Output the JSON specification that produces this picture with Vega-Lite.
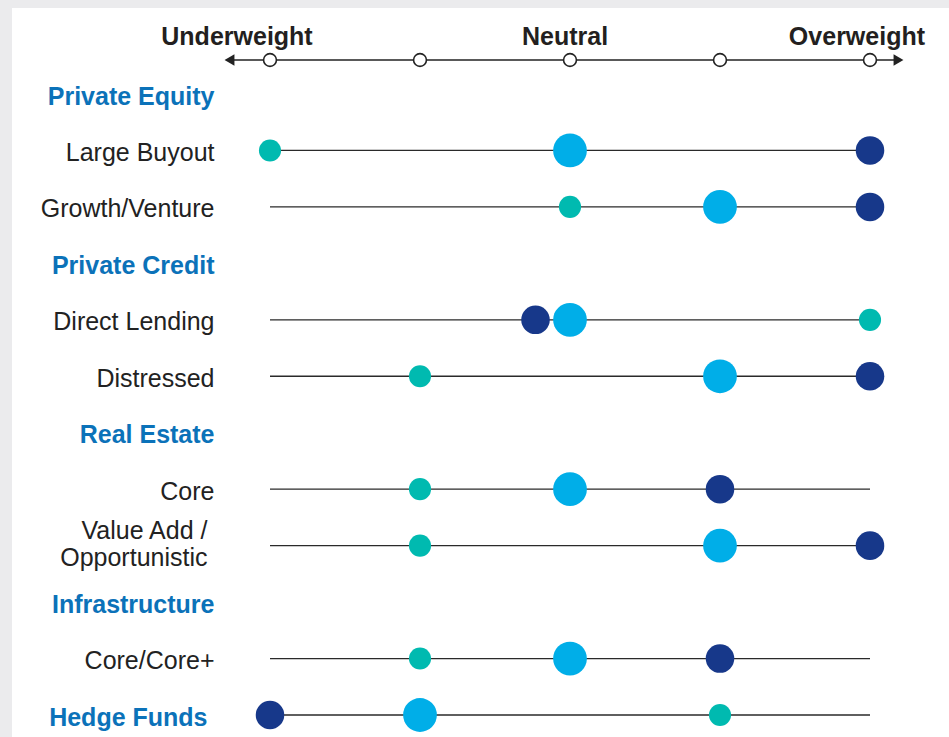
{
  "$schema": "https://vega.github.io/schema/vega-lite/v6.json",
  "autosize": {"type": "none"},
  "width": 937,
  "height": 729,
  "padding": {"left": 12, "top": 8, "right": 0, "bottom": 0},
  "background": "#ebebed",
  "config": {"view": {"fill": "#ffffff", "stroke": null}, "font": "Liberation Sans"},
  "datasets": {
    "dots": [
      {"row": "Large Buyout", "series": "Series C", "score": 1},
      {"row": "Large Buyout", "series": "Series A", "score": 3},
      {"row": "Large Buyout", "series": "Series B", "score": 5},
      {"row": "Growth/Venture", "series": "Series C", "score": 3},
      {"row": "Growth/Venture", "series": "Series A", "score": 4},
      {"row": "Growth/Venture", "series": "Series B", "score": 5},
      {"row": "Direct Lending", "series": "Series B", "score": 2.77},
      {"row": "Direct Lending", "series": "Series A", "score": 3},
      {"row": "Direct Lending", "series": "Series C", "score": 5},
      {"row": "Distressed", "series": "Series C", "score": 2},
      {"row": "Distressed", "series": "Series A", "score": 4},
      {"row": "Distressed", "series": "Series B", "score": 5},
      {"row": "Core", "series": "Series C", "score": 2},
      {"row": "Core", "series": "Series A", "score": 3},
      {"row": "Core", "series": "Series B", "score": 4},
      {"row": "Value Add / Opportunistic", "series": "Series C", "score": 2},
      {"row": "Value Add / Opportunistic", "series": "Series A", "score": 4},
      {"row": "Value Add / Opportunistic", "series": "Series B", "score": 5},
      {"row": "Core/Core+", "series": "Series C", "score": 2},
      {"row": "Core/Core+", "series": "Series A", "score": 3},
      {"row": "Core/Core+", "series": "Series B", "score": 4},
      {"row": "Hedge Funds", "series": "Series B", "score": 1},
      {"row": "Hedge Funds", "series": "Series A", "score": 2},
      {"row": "Hedge Funds", "series": "Series C", "score": 4}
    ],
    "rows": [
      {"row": "Private Equity"},
      {"row": "Large Buyout"},
      {"row": "Growth/Venture"},
      {"row": "Private Credit"},
      {"row": "Direct Lending"},
      {"row": "Distressed"},
      {"row": "Real Estate"},
      {"row": "Core"},
      {"row": "Value Add / Opportunistic"},
      {"row": "Infrastructure"},
      {"row": "Core/Core+"},
      {"row": "Hedge Funds"}
    ],
    "lines": [
      {"row": "Large Buyout"},
      {"row": "Growth/Venture"},
      {"row": "Direct Lending"},
      {"row": "Distressed"},
      {"row": "Core"},
      {"row": "Value Add / Opportunistic"},
      {"row": "Core/Core+"},
      {"row": "Hedge Funds"}
    ],
    "arrows": [
      {"row": "axis", "score": 0.73, "dir": "left"},
      {"row": "axis", "score": 5.19, "dir": "right"}
    ],
    "ticks": [
      {"row": "axis", "score": 1},
      {"row": "axis", "score": 2},
      {"row": "axis", "score": 3},
      {"row": "axis", "score": 4},
      {"row": "axis", "score": 5}
    ],
    "scaleLabels": [
      {"row": "axis", "score": 0.78, "label": "Underweight"},
      {"row": "axis", "score": 2.967, "label": "Neutral"},
      {"row": "axis", "score": 4.913, "label": "Overweight"}
    ]
  },
  "resolve": {"scale": {"y": "independent"}, "axis": {"y": "independent"}},
  "layer": [
    {
      "encoding": {
        "y": {"field": "row", "type": "ordinal", "scale": {"type": "point", "domain": ["axis"], "range": [52, 52], "padding": 0}, "axis": null}
      },
      "layer": [
        {
          "data": {"name": "arrows"},
          "mark": {"type": "rule", "color": "#222222", "strokeWidth": 1.6},
          "encoding": {
            "x": {"aggregate": "min", "field": "score", "type": "quantitative", "scale": {"domain": [1, 5], "range": [258, 858], "nice": false, "zero": false}, "axis": null},
            "x2": {"aggregate": "max", "field": "score"}
          }
        },
        {
          "data": {"name": "arrows"},
          "mark": {"type": "point", "filled": true, "color": "#222222", "size": 130, "opacity": 1},
          "encoding": {
            "x": {"field": "score", "type": "quantitative"},
            "shape": {"field": "dir", "type": "nominal", "scale": {"domain": ["left", "right"], "range": ["triangle-left", "triangle-right"]}, "legend": null}
          }
        },
        {
          "data": {"name": "ticks"},
          "mark": {"type": "point", "filled": true, "fill": "#ffffff", "stroke": "#222222", "strokeWidth": 1.6, "size": 165, "opacity": 1},
          "encoding": {
            "x": {"field": "score", "type": "quantitative"}
          }
        },
        {
          "data": {"name": "scaleLabels"},
          "mark": {"type": "text", "font": "Liberation Sans", "fontSize": 25, "fontWeight": "bold", "color": "#231f20", "baseline": "alphabetic", "align": "center", "dy": -15},
          "encoding": {
            "x": {"field": "score", "type": "quantitative"},
            "text": {"field": "label"}
          }
        }
      ]
    },
    {
      "encoding": {
        "y": {
          "field": "row", "type": "ordinal",
          "sort": ["Private Equity", "Large Buyout", "Growth/Venture", "Private Credit", "Direct Lending", "Distressed", "Real Estate", "Core", "Value Add / Opportunistic", "Infrastructure", "Core/Core+", "Hedge Funds"],
          "scale": {"type": "point", "domain": ["Private Equity", "Large Buyout", "Growth/Venture", "Private Credit", "Direct Lending", "Distressed", "Real Estate", "Core", "Value Add / Opportunistic", "Infrastructure", "Core/Core+", "Hedge Funds"], "range": [86, 707], "padding": 0},
          "axis": {
            "orient": "left", "offset": -202, "title": null, "domain": false, "ticks": false, "grid": false,
            "labelFontSize": 25, "labelFont": "Liberation Sans", "labelLimit": 0, "labelOverlap": false,
            "labelLineHeight": 27,
            "labelExpr": "datum.value == 'Value Add / Opportunistic' ? ['Value Add /', 'Opportunistic'] : datum.value",
            "labelPadding": {"condition": {"test": "datum.value == 'Value Add / Opportunistic' || datum.value == 'Hedge Funds'", "value": 7}, "value": 0},
            "labelOffset": {"condition": {"test": "datum.value == 'Value Add / Opportunistic'", "value": -15}, "value": 2},
            "labelColor": {"condition": {"test": "indexof(['Private Equity','Private Credit','Real Estate','Infrastructure','Hedge Funds'], datum.value) >= 0", "value": "#0b72b9"}, "value": "#222222"},
            "labelFontWeight": {"condition": {"test": "indexof(['Private Equity','Private Credit','Real Estate','Infrastructure','Hedge Funds'], datum.value) >= 0", "value": "bold"}, "value": "normal"}
          }
        }
      },
      "layer": [
        {
          "data": {"name": "rows"},
          "mark": {"type": "point", "opacity": 0},
          "encoding": {
            "x": {"datum": 3, "type": "quantitative"}
          }
        },
        {
          "data": {"name": "lines"},
          "mark": {"type": "rule", "color": "#2a2a2a", "strokeWidth": 1.3},
          "encoding": {
            "x": {"datum": 1, "type": "quantitative"},
            "x2": {"datum": 5}
          }
        },
        {
          "data": {"name": "dots"},
          "mark": {"type": "circle", "opacity": 1},
          "encoding": {
            "x": {"field": "score", "type": "quantitative"},
            "color": {"field": "series", "type": "nominal", "scale": {"domain": ["Series A", "Series B", "Series C"], "range": ["#00aee8", "#17388a", "#00bab0"]}, "legend": null},
            "size": {"field": "series", "type": "nominal", "scale": {"domain": ["Series A", "Series B", "Series C"], "range": [1140, 490, 490]}, "legend": null}
          }
        }
      ]
    }
  ]
}
